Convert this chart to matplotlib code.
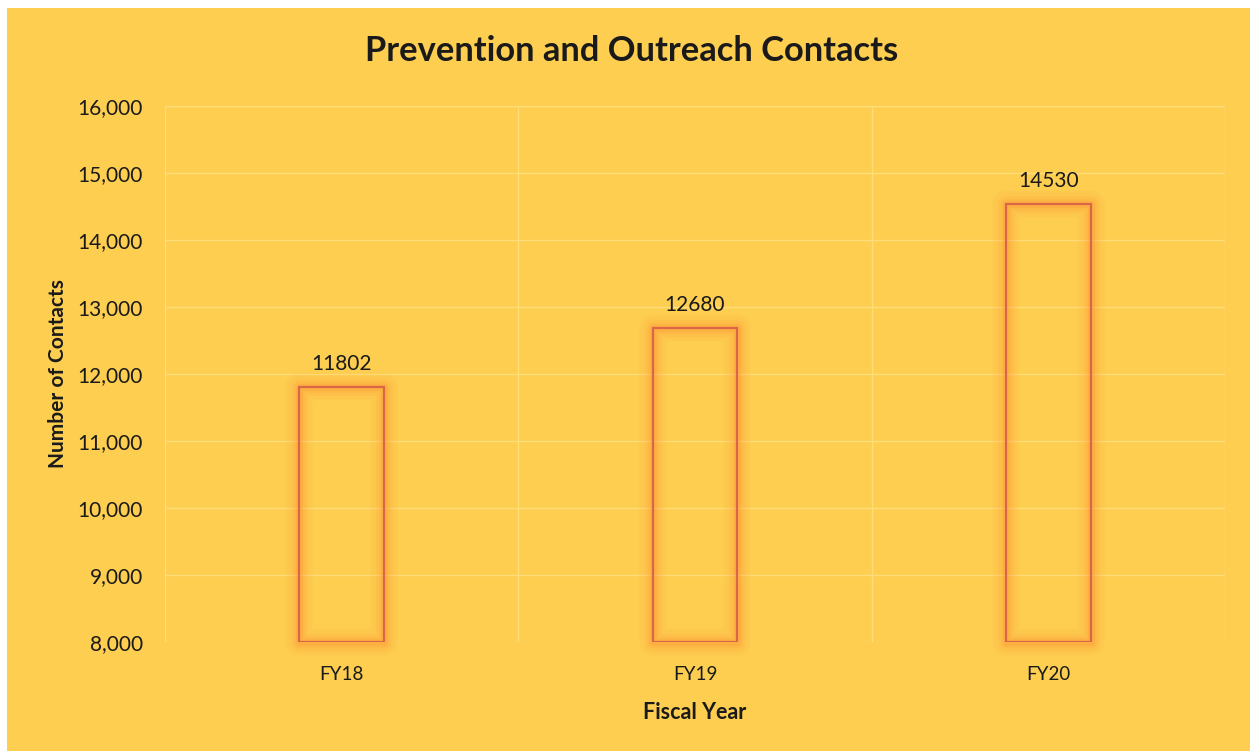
import matplotlib.pyplot as plt
from matplotlib.patches import Rectangle
from matplotlib.ticker import FuncFormatter

categories = ['FY18', 'FY19', 'FY20']
contacts = [11802, 12680, 14530]

bg = '#FDCE50'
edge = '#DA6646'
glow = '#FF9236'
text_color = '#1A1A1A'

plt.rcParams['font.family'] = ['Lato', 'DejaVu Sans']

fig = plt.figure(figsize=(12.5, 7.51), dpi=100, facecolor='white')
fig.patches.append(Rectangle((7 / 1250, 0), 1, 1 - 8 / 751, transform=fig.transFigure,
                             facecolor=bg, edgecolor='none', zorder=-10))

ax = fig.add_axes([0.132, 0.1451, 0.848, 0.7138])
ax.set_facecolor('none')

x = range(len(categories))
width = 0.24

# soft orange glow around the bar outlines
for lw, a in [(20, 0.05), (16, 0.07), (12, 0.1), (8, 0.15), (5, 0.22)]:
    glow_bars = ax.bar(x, [v - 8000 for v in contacts], width=width, bottom=8000,
                       facecolor='none', edgecolor=glow, linewidth=lw, alpha=a, zorder=2)
    for b in glow_bars:
        b.set_clip_on(False)
        b.set_joinstyle('round')
ax.bar(x, [v - 8000 for v in contacts], width=width, bottom=8000,
       facecolor='none', edgecolor=edge, linewidth=1.6, zorder=3)

for i, v in enumerate(contacts):
    ax.text(i, v + 200, str(v), ha='center', va='bottom', fontsize=15, color=text_color)

ax.set_ylim(8000, 16000)
ax.set_xlim(-0.5, 2.5)
ax.set_yticks(range(8000, 16001, 1000))
ax.yaxis.set_major_formatter(FuncFormatter(lambda v, p: f'{int(v):,}'))
ax.set_xticks(list(x))
ax.set_xticklabels(categories)
ax.tick_params(axis='both', length=0, colors=text_color)
ax.tick_params(axis='x', pad=17, labelsize=13.5)
ax.tick_params(axis='y', pad=16, labelsize=15)

ax.grid(axis='y', color='#FFDD78', linewidth=1)
for xv in [0.5, 1.5]:
    ax.axvline(xv, color='#FFDD78', linewidth=1, zorder=0)
for s in ax.spines.values():
    s.set_visible(False)
ax.axvline(-0.5, color='#FFDD78', linewidth=1, zorder=0)
ax.axvline(2.5, color='#FFDD78', linewidth=1, zorder=0)
ax.axhline(16000, color='#FFDD78', linewidth=1, zorder=0)

ax.set_xlabel('Fiscal Year', fontsize=15.5, fontweight='bold', color=text_color, labelpad=14)
ax.set_ylabel('Number of Contacts', fontsize=15, fontweight='bold', color=text_color, labelpad=7)

fig.text(0.505, 0.932, 'Prevention and Outreach Contacts', ha='center', va='center',
         fontsize=24.8, fontweight='bold', color=text_color)

fig.savefig('out.png', dpi=100, facecolor='white')
